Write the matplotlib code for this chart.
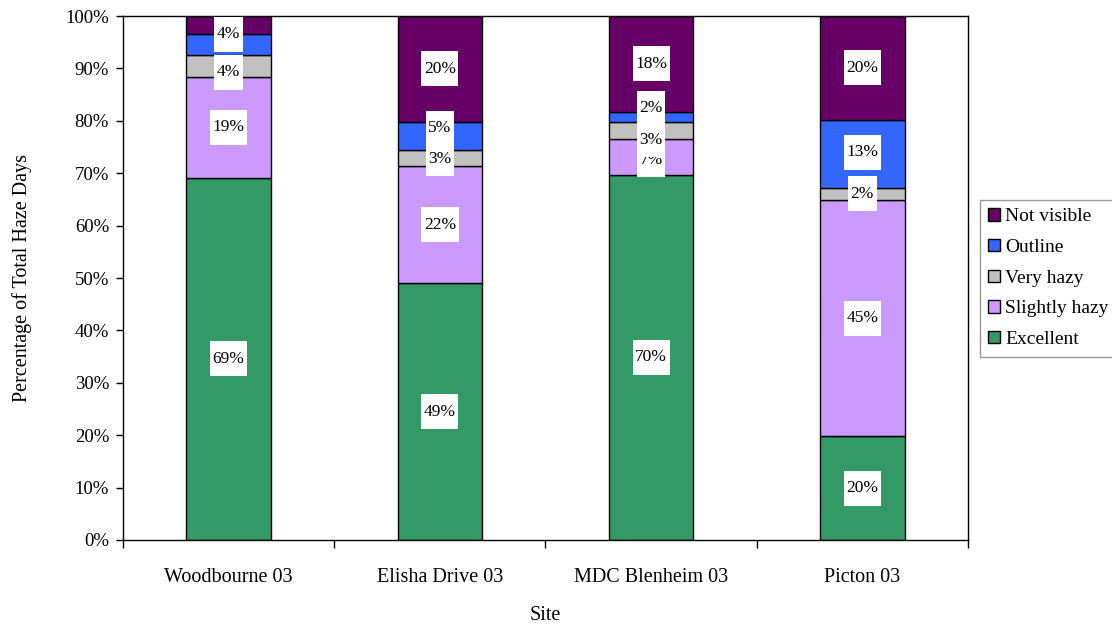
import numpy as np
import matplotlib.pyplot as plt
from matplotlib.path import Path
from matplotlib.ticker import PercentFormatter, MultipleLocator, FixedLocator

plt.rcParams['font.family'] = ['Liberation Serif', 'DejaVu Serif']

sites = ['Woodbourne 03', 'Elisha Drive 03', 'MDC Blenheim 03', 'Picton 03']
categories = ['Excellent', 'Slightly hazy', 'Very hazy', 'Outline', 'Not visible']
colors = ['#339966', '#CC99FF', '#C0C0C0', '#3366FF', '#660066']

# percentage of haze days per site, stacked bottom to top
excellent = [69.1, 49.0, 69.7, 19.8]
slightly_hazy = [19.3, 22.4, 6.8, 45.1]
very_hazy = [4.2, 3.0, 3.3, 2.3]
outline = [4.0, 5.4, 1.9, 13.0]
not_visible = [3.4, 20.2, 18.3, 19.8]
series = [excellent, slightly_hazy, very_hazy, outline, not_visible]

# label text per segment (None = no label shown)
labels = [
    ['69%', '49%', '70%', '20%'],
    ['19%', '22%', '7%', '45%'],
    ['4%', '3%', '3%', '2%'],
    ['4%', '5%', '2%', '13%'],
    [None, '20%', '18%', '20%'],
]
# crowded labels get pushed apart: (series, site) -> label centre in %
label_y_override = {
    (2, 0): 89.3, (3, 0): 96.5,
    (2, 1): 72.8, (3, 1): 78.6,
    (1, 2): 72.6, (2, 2): 76.4, (3, 2): 82.4,
    (2, 3): 66.1, (3, 3): 74.0,
}


def label_box(x0, y0, width, height, mutation_size):
    # white box, a bit wider than the text and roughly square
    px = 0.15 * mutation_size
    py = (35 - height) / 2
    x0, x1 = x0 - px, x0 + width + px
    y0, y1 = y0 - py, y0 + height + py
    return Path([(x0, y0), (x1, y0), (x1, y1), (x0, y1), (x0, y0)], closed=True)


fig = plt.figure(figsize=(11.12, 6.26), dpi=100)
ax = fig.add_axes([0.1106, 0.1374, 0.7599, 0.837])

x = np.arange(len(sites)) + 0.5
bottom = np.zeros(len(sites))
for vals, cat, col in zip(series, categories, colors):
    ax.bar(x, vals, width=0.4, bottom=bottom, color=col, edgecolor='black',
           linewidth=1, label=cat, zorder=2)
    bottom += np.array(vals)

z = 3
bottom = np.zeros(len(sites))
for si, vals in enumerate(series):
    for i, v in enumerate(vals):
        txt = labels[si][i]
        if txt is not None:
            y = label_y_override.get((si, i), bottom[i] + v / 2)
            ax.text(x[i], y, txt, ha='center', va='center', fontsize=12.5, zorder=z,
                    bbox=dict(boxstyle=label_box, facecolor='white', edgecolor='none'))
            z += 1
    bottom += np.array(vals)

ax.set_xlim(0, 4)
ax.set_ylim(0, 100)
ax.yaxis.set_major_locator(MultipleLocator(10))
ax.yaxis.set_major_formatter(PercentFormatter(decimals=0))
ax.set_xticks(x)
ax.set_xticklabels(sites)
ax.xaxis.set_minor_locator(FixedLocator([0, 1, 2, 3, 4]))
ax.tick_params(axis='x', which='major', length=0, pad=20, labelsize=14.5)
ax.tick_params(axis='x', which='minor', length=6, direction='out', width=1)
ax.tick_params(axis='y', length=5, direction='out', width=1, pad=5, labelsize=13.5)
for s in ax.spines.values():
    s.set_linewidth(1)
    s.set_color('black')

ax.set_ylabel('Percentage of Total Haze Days', fontsize=14.5, labelpad=24)
ax.set_xlabel('Site', fontsize=14.5, labelpad=14)

handles, leg_labels = ax.get_legend_handles_labels()
fig.legend(handles[::-1], leg_labels[::-1], loc='upper left',
           bbox_to_anchor=(0.881, 0.681), fontsize=14, frameon=True,
           fancybox=False, edgecolor='#808080', handlelength=0.6,
           handleheight=0.6, handletextpad=0.25, labelspacing=0.7,
           borderpad=0.45, borderaxespad=0)

fig.savefig('out.png', dpi=100)
